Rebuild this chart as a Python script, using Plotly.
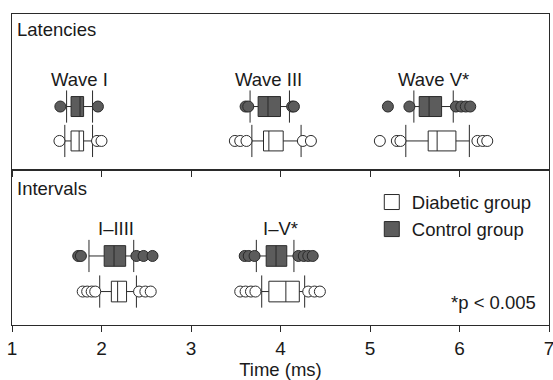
import plotly.graph_objects as go
from plotly.subplots import make_subplots

# Box statistics (ms) for each measure: control and diabetic groups
latency_labels = ["Wave I", "Wave III", "Wave V*"]
interval_labels = ["I\u2013IIII", "I\u2013V*"]

ctrl_lat_q1 = [1.66, 3.75, 5.55]
ctrl_lat_med = [1.76, 3.86, 5.66]
ctrl_lat_q3 = [1.80, 4.00, 5.80]
ctrl_lat_lo = [1.61, 3.66, 5.49]
ctrl_lat_hi = [1.90, 4.10, 5.93]
ctrl_lat_out = [[1.54, 1.96], [3.61, 3.64, 4.13, 4.15], [5.20, 5.44, 5.96, 6.02, 6.07, 6.12]]

diab_lat_q1 = [1.66, 3.81, 5.65]
diab_lat_med = [1.75, 3.87, 5.75]
diab_lat_q3 = [1.80, 4.03, 5.96]
diab_lat_lo = [1.59, 3.68, 5.40]
diab_lat_hi = [1.90, 4.23, 6.11]
diab_lat_out = [[1.53, 1.95, 2.00], [3.49, 3.55, 3.62, 4.25, 4.34], [5.11, 5.30, 5.34, 6.20, 6.26, 6.31]]

ctrl_int_q1 = [2.03, 3.84]
ctrl_int_med = [2.14, 3.95]
ctrl_int_q3 = [2.27, 4.07]
ctrl_int_lo = [1.86, 3.73]
ctrl_int_hi = [2.36, 4.15]
ctrl_int_out = [[1.74, 1.77, 2.39, 2.47, 2.57], [3.60, 3.645, 3.71, 4.20, 4.26, 4.31, 4.36]]

diab_int_q1 = [2.11, 3.87]
diab_int_med = [2.18, 4.06]
diab_int_q3 = [2.28, 4.21]
diab_int_lo = [1.98, 3.79]
diab_int_hi = [2.39, 4.27]
diab_int_out = [[1.79, 1.84, 1.89, 1.93, 2.42, 2.49, 2.55], [3.55, 3.61, 3.67, 3.72, 4.31, 4.38, 4.44]]

x_ticks = [1, 2, 3, 4, 5, 6, 7]

CTRL_ROW, DIAB_ROW = 1, 0
FONT = "Liberation Sans, Arial, sans-serif"
INK = "#2a2a2a"
GRAY = "#5c5c5c"

fig = make_subplots(rows=2, cols=1, shared_xaxes=True, vertical_spacing=0)


def add_group(row, q1, med, q3, lo, hi, outs, ypos, fill):
    for i in range(len(q1)):
        fig.add_trace(go.Box(
            q1=[q1[i]], median=[med[i]], q3=[q3[i]],
            lowerfence=[lo[i]], upperfence=[hi[i]], y=[ypos],
            orientation="h", width=0.58, boxpoints=False, whiskerwidth=0,
            fillcolor=fill, line=dict(color=INK, width=1),
            showlegend=False, hoverinfo="skip"), row=row, col=1)
        # whisker end caps
        fig.add_trace(go.Scatter(
            x=[lo[i], hi[i]], y=[ypos, ypos], mode="markers",
            marker=dict(symbol="line-ns", size=23, line=dict(color=INK, width=1)),
            showlegend=False, hoverinfo="skip"), row=row, col=1)
        # outliers
        fig.add_trace(go.Scatter(
            x=outs[i], y=[ypos] * len(outs[i]), mode="markers",
            marker=dict(symbol="circle", size=11, color=fill, line=dict(color=INK, width=1)),
            showlegend=False, hoverinfo="skip"), row=row, col=1)


add_group(1, ctrl_lat_q1, ctrl_lat_med, ctrl_lat_q3, ctrl_lat_lo, ctrl_lat_hi, ctrl_lat_out, CTRL_ROW, GRAY)
add_group(1, diab_lat_q1, diab_lat_med, diab_lat_q3, diab_lat_lo, diab_lat_hi, diab_lat_out, DIAB_ROW, "white")
add_group(2, ctrl_int_q1, ctrl_int_med, ctrl_int_q3, ctrl_int_lo, ctrl_int_hi, ctrl_int_out, CTRL_ROW, GRAY)
add_group(2, diab_int_q1, diab_int_med, diab_int_q3, diab_int_lo, diab_int_hi, diab_int_out, DIAB_ROW, "white")

# legend entries
for name, fill in [("Diabetic group", "white"), ("Control group", GRAY)]:
    fig.add_trace(go.Scatter(
        x=[None], y=[None], mode="markers", name=name,
        marker=dict(symbol="square", size=15, color=fill, line=dict(color=INK, width=1))),
        row=2, col=1)

annotations = []
for i, lab in enumerate(latency_labels):
    annotations.append(dict(text=lab, x=(ctrl_lat_med[i] + diab_lat_med[i]) / 2, y=1.8,
                            xref="x", yref="y", showarrow=False))
for i, lab in enumerate(interval_labels):
    annotations.append(dict(text=lab, x=(ctrl_int_med[i] + diab_int_med[i]) / 2, y=1.77,
                            xref="x2", yref="y2", showarrow=False))
annotations += [
    dict(text="Latencies", x=0, xshift=3, y=1, yshift=-3, xref="x domain", yref="y domain",
         xanchor="left", yanchor="top", showarrow=False),
    dict(text="Intervals", x=0, xshift=3, y=1, yshift=-6, xref="x2 domain", yref="y2 domain",
         xanchor="left", yanchor="top", showarrow=False),
    dict(text="*p < 0.005", x=1, xshift=-11, y=-0.31, xref="x2 domain", yref="y2",
         xanchor="right", yanchor="middle", showarrow=False),
]

fig.update_layout(
    width=553, height=380,
    margin=dict(l=12, r=4, t=14, b=55, autoexpand=False),
    paper_bgcolor="white", plot_bgcolor="white",
    font=dict(family=FONT, size=18.5, color="#1a1a1a"),
    annotations=annotations,
    showlegend=True,
    legend=dict(x=0.67, xanchor="left", y=0.455, yanchor="top",
                bgcolor="rgba(0,0,0,0)", font=dict(size=18.5), itemsizing="trace",
                tracegroupgap=0),
)

axis_common = dict(range=[1, 7], tickvals=x_ticks, showline=True, mirror=True,
                   linecolor=INK, linewidth=1.3, ticks="outside", ticklen=6,
                   tickcolor=INK, showgrid=False, zeroline=False, automargin=False)
fig.update_xaxes(**axis_common, row=1, col=1, showticklabels=False)
fig.update_xaxes(**axis_common, row=2, col=1, showticklabels=True,
                 ticklabeloverflow="allow",
                 tickfont=dict(size=19),
                 title=dict(text="Time (ms)", font=dict(size=18.5), standoff=2))
fig.update_yaxes(showline=True, mirror=True, linecolor=INK, linewidth=1.3,
                 showticklabels=False, ticks="", showgrid=False, zeroline=False,
                 automargin=False)
fig.update_yaxes(range=[-0.83, 3.69], row=1, col=1)
fig.update_yaxes(range=[-0.94, 3.43], row=2, col=1)

fig.write_html("out.html")
